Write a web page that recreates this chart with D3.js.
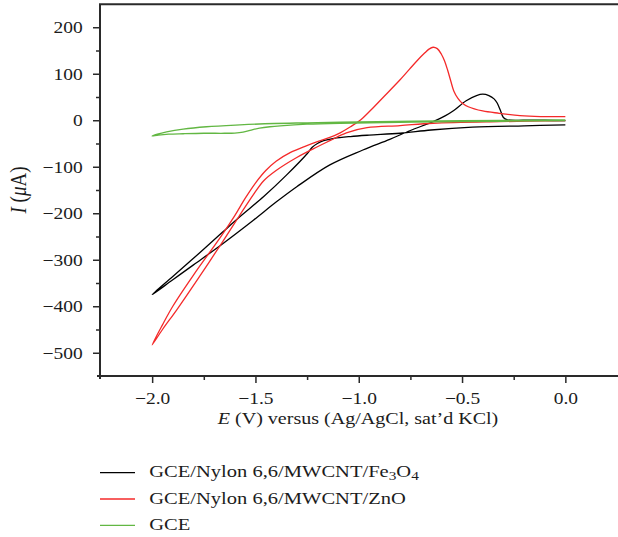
<!DOCTYPE html>
<html><head><meta charset="utf-8">
<script src="https://cdn.jsdelivr.net/npm/d3@7"></script>
<style>
html,body{margin:0;padding:0;background:#fff;}
svg{display:block;}
text{font-family:"Liberation Serif","Times New Roman",serif;fill:#1c1c1c;}
</style>
</head><body>
<svg id="c" width="618" height="537"></svg>
<script>
// ---------- data ----------
const seriesNames = ["GCE/Nylon 6,6/MWCNT/Fe3O4", "GCE/Nylon 6,6/MWCNT/ZnO", "GCE"];
const seriesColors = ["#000000", "#f42a2a", "#62b743"];

// GCE/Nylon 6,6/MWCNT/Fe3O4 (cathodic sweep 0 -> -2 V, then anodic back to 0 V)
const feE = [0.00, -0.20, -0.45, -0.65, -0.80, -0.95, -1.04, -1.12, -1.17, -1.20, -1.225, -1.25, -1.35, -1.46, -1.58, -1.66, -1.80, -1.90, -2.00,
             -1.90, -1.80, -1.66, -1.51, -1.40, -1.30, -1.14, -0.98, -0.85, -0.75, -0.64, -0.58, -0.54, -0.48, -0.43, -0.40, -0.37, -0.345, -0.33, -0.315, -0.30, -0.28, -0.20, -0.10, 0.00];
const feI = [-10, -12, -15, -21, -28, -32, -35, -39, -44, -50, -58, -72, -118, -164, -209, -241, -297, -336, -375,
             -343, -311, -266, -215, -176, -143, -96, -64, -41, -22, -3, 10, 21, 42, 53, 56, 53, 46, 37, 22, 6, 1, 0, 0, -1];

// GCE/Nylon 6,6/MWCNT/ZnO
const znE = [0.00, -0.32, -0.64, -0.80, -0.96, -1.06, -1.14, -1.20, -1.30, -1.40, -1.46, -1.51, -1.58, -1.66, -1.78, -1.88, -1.95, -2.00,
             -1.95, -1.90, -1.80, -1.67, -1.60, -1.55, -1.50, -1.45, -1.40, -1.33, -1.26, -1.20, -1.14, -1.09, -1.04, -0.99, -0.93, -0.88, -0.80, -0.72, -0.68, -0.66, -0.64, -0.62, -0.60, -0.585, -0.57, -0.555, -0.54, -0.52, -0.50, -0.47, -0.40, -0.32, -0.22, -0.12, 0.00];
const znI = [-1, -3, -6.5, -11.5, -16, -27, -44, -57, -80, -108, -130, -160, -207, -262, -342, -407, -450, -483,
             -440, -400, -333, -252, -205, -168, -135, -108, -88, -69, -56, -46, -37, -27, -14, 1, 27, 50, 87, 127, 145, 153, 157, 154, 142, 128, 108, 85, 63, 47, 37, 29, 20, 15, 10, 8, 8];

// GCE
const gceE = [0.00, -0.50, -1.09, -1.25, -1.41, -1.575, -1.737, -1.85, -1.93, -1.975, -2.00,
              -1.97, -1.92, -1.85, -1.75, -1.65, -1.60, -1.56, -1.52, -1.48, -1.43, -1.38, -1.25, -1.09, -0.50, 0.00];
const gceI = [1, -1, -4, -5.5, -7, -10, -14, -19, -25, -30, -34,
              -32, -30, -29, -28, -28, -27.5, -25.5, -21, -17, -14, -12, -8.5, -6.5, -3, -1];

const xTicks = [-2.0, -1.5, -1.0, -0.5, 0.0];
const xMinor = [-1.75, -1.25, -0.75, -0.25];
const yTicks = [-500, -400, -300, -200, -100, 0, 100, 200];
const yMinor = [-450, -350, -250, -150, -50, 50, 150];

// ---------- drawing ----------
const SX = 1.18;           // horizontal text stretch seen in the reference
const svg = d3.select("#c");
const x = d3.scaleLinear().domain([-2.25, 0.25]).range([100.5, 617]);
const y = d3.scaleLinear().domain([-550, 250]).range([376, 4]);
const axisColor = "#2a2a2a";

// curves
const series = [
  {E: feE, I: feI},
  {E: znE, I: znI},
  {E: gceE, I: gceI}
];
const line = d3.line().x(d => x(d[0])).y(d => y(d[1])).curve(d3.curveCatmullRom.alpha(0.5));
series.forEach((s, k) => {
  svg.append("path")
    .datum(d3.zip(s.E, s.I))
    .attr("d", line)
    .attr("fill", "none")
    .attr("stroke", seriesColors[k])
    .attr("stroke-width", 1.3)
    .attr("stroke-linejoin", "round");
});

// x axis
const gx = svg.append("g").attr("transform", "translate(0,376)")
  .call(d3.axisBottom(x).tickValues(xTicks).tickSize(7).tickSizeOuter(0).tickFormat(d3.format(".1f")));
const gxm = svg.append("g").attr("transform", "translate(0,376)")
  .call(d3.axisBottom(x).tickValues(xMinor).tickSize(4).tickSizeOuter(0).tickFormat(""));
// y axis
const gy = svg.append("g").attr("transform", "translate(100,0)")
  .call(d3.axisLeft(y).tickValues(yTicks).tickSize(7).tickSizeOuter(0).tickFormat(d3.format("d")));
const gym = svg.append("g").attr("transform", "translate(100,0)")
  .call(d3.axisLeft(y).tickValues(yMinor).tickSize(4).tickSizeOuter(0).tickFormat(""));

[gx, gxm, gy, gym].forEach(g => {
  g.attr("font-family", null).attr("font-size", null);
  g.select(".domain").remove();
  g.selectAll(".tick line").attr("stroke", axisColor).attr("stroke-width", 1.5);
});
gx.selectAll(".tick text")
  .attr("y", 28).attr("dy", 0)
  .attr("font-size", 16.5).attr("fill", "#1c1c1c")
  .attr("transform", `scale(${SX},1)`);
gy.selectAll(".tick text")
  .attr("x", -17.3 / SX).attr("dy", "0.33em")
  .attr("font-size", 16.5).attr("fill", "#1c1c1c")
  .attr("transform", `scale(${SX},1)`);

// frame lines
svg.append("line").attr("x1", 100).attr("x2", 100).attr("y1", 4).attr("y2", 379)
  .attr("stroke", axisColor).attr("stroke-width", 2);
svg.append("line").attr("x1", 97).attr("x2", 618).attr("y1", 376).attr("y2", 376)
  .attr("stroke", axisColor).attr("stroke-width", 2);
svg.append("line").attr("x1", 99).attr("x2", 618).attr("y1", 4.3).attr("y2", 4.3)
  .attr("stroke", axisColor).attr("stroke-width", 2);

// axis titles
const xt = svg.append("text")
  .attr("transform", `translate(358,424) scale(${SX},1)`)
  .attr("text-anchor", "middle").attr("font-size", 17);
xt.append("tspan").attr("font-style", "italic").text("E");
xt.append("tspan").text(" (V) versus (Ag/AgCl, sat\u2019d KCl)");

const yt = svg.append("text")
  .attr("transform", `translate(26,190) rotate(-90) scale(1,${SX})`)
  .attr("text-anchor", "middle").attr("font-size", 19);
yt.append("tspan").attr("font-style", "italic").text("I");
yt.append("tspan").text(" (");
yt.append("tspan").attr("font-style", "italic").text("\u03BC");
yt.append("tspan").text("A)");

// legend
const legY = [472.7, 499, 525.3];
seriesNames.forEach((name, k) => {
  svg.append("line").attr("x1", 100).attr("x2", 135).attr("y1", legY[k]).attr("y2", legY[k])
    .attr("stroke", seriesColors[k]).attr("stroke-width", 1.3);
  const t = svg.append("text")
    .attr("transform", `translate(149.3,${legY[k] + 4.6}) scale(${SX},1)`)
    .attr("font-size", 17.4);
  const m = name.match(/^(.*Fe)3O4$/);
  if (m) {
    t.append("tspan").text(m[1]);
    t.append("tspan").attr("font-size", 13).attr("dy", 3).text("3");
    t.append("tspan").attr("dy", -3).text("O");
    t.append("tspan").attr("font-size", 13).attr("dy", 3).text("4");
  } else {
    t.text(name);
  }
});
</script>
</body></html>
